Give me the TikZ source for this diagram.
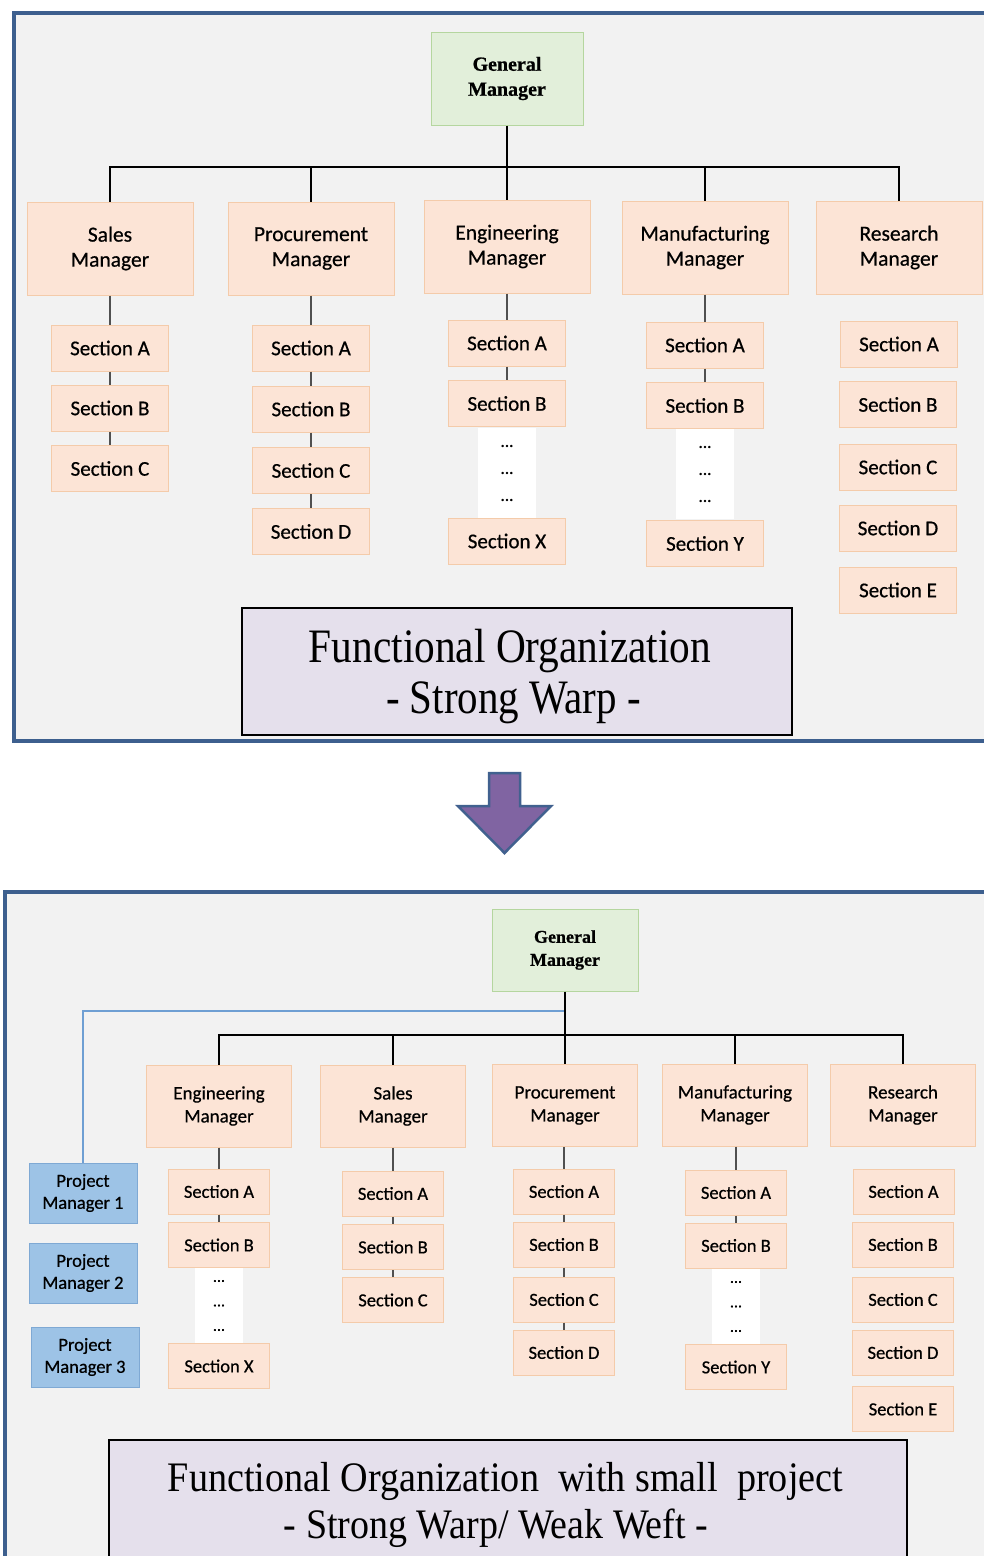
\documentclass[tikz,border=0pt]{standalone}
\usepackage{fontspec}
\usepackage{graphicx}
\setmainfont{Liberation Serif}
\newfontfamily\labelfont[FakeBold=0.6]{Carlito}
\newfontfamily\headfont[FakeBold=0.8]{Liberation Serif Bold}

\definecolor{frameblue}{HTML}{3D5F8E}
\definecolor{panel}{HTML}{F2F2F2}
\definecolor{gmfill}{HTML}{E2EFDA}
\definecolor{gmline}{HTML}{B5D69F}
\definecolor{peach}{HTML}{FCE4D6}
\definecolor{peachline}{HTML}{F4CBAA}
\definecolor{pmfill}{HTML}{9DC3E6}
\definecolor{pmline}{HTML}{7FA9D4}
\definecolor{titlefill}{HTML}{E5E0EC}
\definecolor{arrowfill}{HTML}{8064A2}
\definecolor{arrowline}{HTML}{41618F}
\definecolor{projline}{HTML}{6F9FD3}
\definecolor{stemgray}{HTML}{505050}

\tikzset{
  box/.style={rectangle, inner sep=0pt, align=center, line width=1pt},
  frame/.style={draw=frameblue, line width=4pt, fill=panel},
  gmA/.style={box, fill=gmfill, draw=gmline, minimum width=152pt, minimum height=93pt,
    font=\headfont\fontsize{20}{25}\selectfont},
  gmB/.style={box, fill=gmfill, draw=gmline, minimum width=146pt, minimum height=82pt,
    font=\headfont\fontsize{18}{23}\selectfont},
  mgrA/.style={box, fill=peach, draw=peachline, minimum width=166pt, minimum height=93pt,
    font=\labelfont\fontsize{21.5}{25}\selectfont},
  mgrB/.style={box, fill=peach, draw=peachline, minimum width=145pt, minimum height=82pt,
    font=\labelfont\fontsize{19}{23}\selectfont},
  secA/.style={box, fill=peach, draw=peachline, minimum width=117pt, minimum height=46pt,
    font=\labelfont\fontsize{21}{25}\selectfont},
  secB/.style={box, fill=peach, draw=peachline, minimum width=101pt, minimum height=45pt,
    font=\labelfont\fontsize{18.5}{22}\selectfont},
  pmbox/.style={box, fill=pmfill, draw=pmline, minimum width=108pt, minimum height=60pt,
    font=\labelfont\fontsize{18.5}{22}\selectfont},
  dotsA/.style={box, fill=white, minimum width=58pt, minimum height=90pt,
    font=\labelfont\fontsize{17}{27}\selectfont},
  dotsB/.style={box, fill=white, minimum width=48pt, minimum height=76pt,
    font=\labelfont\fontsize{16}{24.5}\selectfont},
  titlebox/.style={rectangle, inner sep=0pt, fill=titlefill, draw=black, line width=2pt},
  titletext/.style={anchor=base, inner sep=0pt},
  bus/.style={line width=2pt, black},
  stem/.style={line width=1.5pt, stemgray},
  proj/.style={line width=2pt, projline},
}

\begin{document}
\begin{tikzpicture}[x=1pt, y=-1pt]
\useasboundingbox (0,0) rectangle (984,1556);
\clip (0,0) rectangle (984,1556);
\fill[white] (0,0) rectangle (984,1556);

% ---------------- functional organization ----------------
\draw[frame] (13.5,12.5) rectangle (1010,741);

\node[gmA] (gm) at (507,78.5) {General\\Manager};

\node[mgrA] (sales) at (110,248.5) {Sales\\Manager};
\node[mgrA] (proc)  at (311,248.5) {Procurement\\Manager};
\node[mgrA] (eng)   at (507,246.5) {Engineering\\Manager};
\node[mgrA] (manu)  at (705,247.5) {Manufacturing\\Manager};
\node[mgrA] (res)   at (899,247.5) {Research\\Manager};

\coordinate (busT) at (507,167);
\draw[bus] (gm.south) -- (gm.south |- busT);
\draw[bus] (sales.north) |- (res.north |- busT) -- (res.north);
\draw[bus] (proc.north) -- (proc.north |- busT);
\draw[bus] (eng.north) -- (eng.north |- busT);
\draw[bus] (manu.north) -- (manu.north |- busT);

% sales sections
\node[secA] (sA) at (110,348) {Section A};
\node[secA] (sB) at (110,408) {Section B};
\node[secA] (sC) at (110,468.5) {Section C};
% procurement sections
\node[secA] (pA) at (311,348) {Section A};
\node[secA] (pB) at (311,409) {Section B};
\node[secA] (pC) at (311,470.5) {Section C};
\node[secA] (pD) at (311,531.5) {Section D};
% engineering sections
\node[secA] (eA) at (507,343) {Section A};
\node[secA] (eB) at (507,403.5) {Section B};
\node[dotsA] (eDots) at (507,473) {...\\...\\...};
\node[secA] (eX) at (507,541) {Section X};
% manufacturing sections
\node[secA] (mA) at (705,345) {Section A};
\node[secA] (mB) at (705,405.5) {Section B};
\node[dotsA] (mDots) at (705,474) {...\\...\\...};
\node[secA] (mY) at (705,543.5) {Section Y};
% research sections
\node[secA] (rA) at (899,344) {Section A};
\node[secA] (rB) at (898,404.5) {Section B};
\node[secA] (rC) at (898,467) {Section C};
\node[secA] (rD) at (898,528) {Section D};
\node[secA] (rE) at (898,590) {Section E};

\draw[stem] (sales.south) -- (sA.north) (sA.south) -- (sB.north) (sB.south) -- (sC.north);
\draw[stem] (proc.south) -- (pA.north) (pA.south) -- (pB.north) (pB.south) -- (pC.north)
            (pC.south) -- (pD.north);
\draw[stem] (eng.south) -- (eA.north) (eA.south) -- (eB.north);
\draw[stem] (manu.south) -- (mA.north) (mA.south) -- (mB.north);

\node[titlebox, minimum width=550pt, minimum height=127pt] (title1) at (517,671.5) {};
\node[titletext, font=\fontsize{48}{50}\selectfont] (title1a) at (510,662)
  {\resizebox{402pt}{\height}{Functional Organization}};
\node[titletext, font=\fontsize{48}{50}\selectfont] (title1b) at (513.5,713)
  {\resizebox{255pt}{\height}{- Strong Warp -}};

% ---------------- transition arrow ----------------
\draw[draw=arrowline, fill=arrowfill, line width=2.5pt, line join=miter]
  (489,773) -- (520,773) -- (520,806) -- (551,806) -- (504.5,853)
  -- (458,806) -- (489,806) -- cycle;

% ---------------- with small projects ----------------
\draw[frame] (5,892) rectangle (1010,1620);

\node[gmB] (gm2) at (565,950) {General\\Manager};

\node[mgrB] (eng2)   at (219,1106) {Engineering\\Manager};
\node[mgrB] (sales2) at (393,1106) {Sales\\Manager};
\node[mgrB] (proc2)  at (565,1105.5) {Procurement\\Manager};
\node[mgrB] (manu2)  at (735,1105) {Manufacturing\\Manager};
\node[mgrB] (res2)   at (903,1105) {Research\\Manager};

\node[pmbox] (pm1) at (83,1193) {Project\\Manager 1};
\node[pmbox] (pm2) at (83,1273) {Project\\Manager 2};
\node[pmbox] (pm3) at (85,1357) {Project\\Manager 3};

\coordinate (projY) at (565,1011);
\draw[proj] (gm2.south |- projY) -| (pm1.north);

\coordinate (busB) at (565,1035);
\draw[bus] (gm2.south) -- (gm2.south |- busB);
\draw[bus] (eng2.north) |- (res2.north |- busB) -- (res2.north);
\draw[bus] (sales2.north) -- (sales2.north |- busB);
\draw[bus] (proc2.north) -- (proc2.north |- busB);
\draw[bus] (manu2.north) -- (manu2.north |- busB);

% engineering sections
\node[secB] (eA2) at (219,1191.5) {Section A};
\node[secB] (eB2) at (219,1245) {Section B};
\node[dotsB] (eDots2) at (219,1305.5) {...\\...\\...};
\node[secB] (eX2) at (219,1366) {Section X};
% sales sections
\node[secB] (sA2) at (393,1193.5) {Section A};
\node[secB] (sB2) at (393,1247) {Section B};
\node[secB] (sC2) at (393,1300) {Section C};
% procurement sections
\node[secB] (pA2) at (564,1191.5) {Section A};
\node[secB] (pB2) at (564,1244.5) {Section B};
\node[secB] (pC2) at (564,1299.5) {Section C};
\node[secB] (pD2) at (564,1352.5) {Section D};
% manufacturing sections
\node[secB] (mA2) at (736,1192.5) {Section A};
\node[secB] (mB2) at (736,1245.5) {Section B};
\node[dotsB] (mDots2) at (736,1306.5) {...\\...\\...};
\node[secB] (mY2) at (736,1367) {Section Y};
% research sections
\node[secB] (rA2) at (903.5,1191.5) {Section A};
\node[secB] (rB2) at (903,1244.5) {Section B};
\node[secB] (rC2) at (903,1299.5) {Section C};
\node[secB] (rD2) at (903,1352.5) {Section D};
\node[secB] (rE2) at (903,1409) {Section E};

\draw[stem] (eng2.south) -- (eA2.north) (eA2.south) -- (eB2.north);
\draw[stem] (sales2.south) -- (sA2.north) (sA2.south) -- (sB2.north) (sB2.south) -- (sC2.north);
\draw[stem] (proc2.south -| pA2.north) -- (pA2.north) (pA2.south) -- (pB2.north)
            (pB2.south) -- (pC2.north) (pC2.south) -- (pD2.north);
\draw[stem] (manu2.south -| mA2.north) -- (mA2.north) (mA2.south) -- (mB2.north);

\node[titlebox, minimum width=798pt, minimum height=160pt] (title2) at (508,1520) {};
\node[titletext, font=\fontsize{42}{44}\selectfont] (title2a) at (505.5,1491)
  {\resizebox{675pt}{\height}{Functional Organization~~with small~~project}};
\node[titletext, font=\fontsize{42}{44}\selectfont] (title2b) at (496,1538)
  {\resizebox{424pt}{\height}{- Strong Warp/ Weak Weft -}};
\end{tikzpicture}
\end{document}
